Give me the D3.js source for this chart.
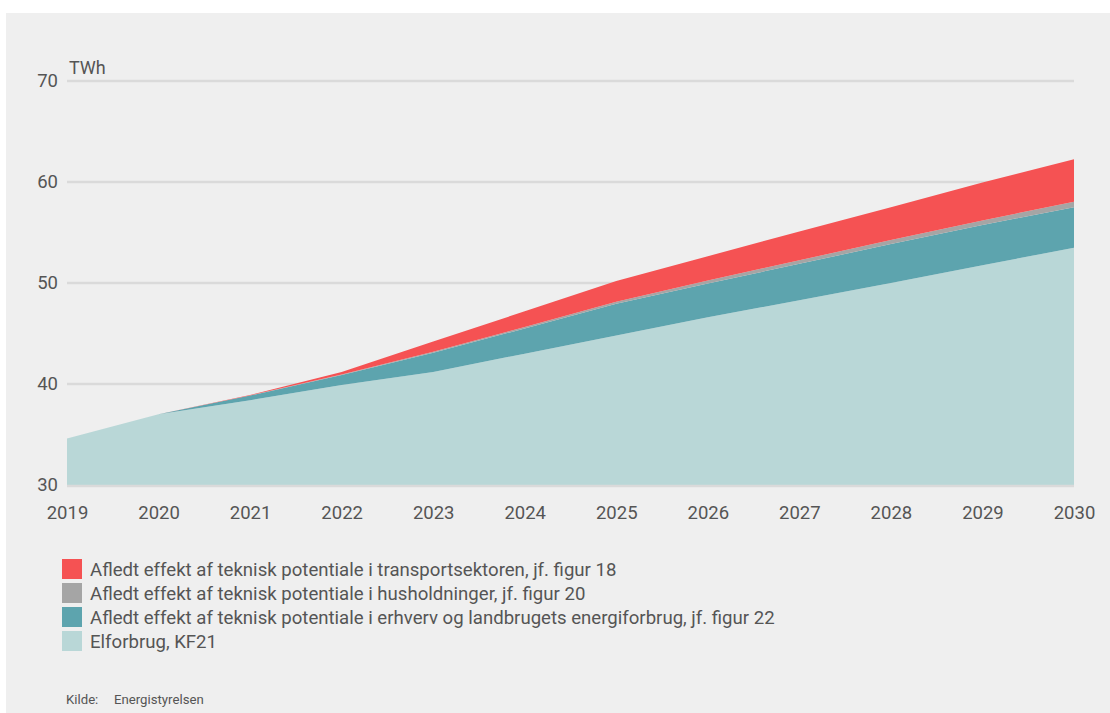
<!DOCTYPE html>
<html>
<head>
<meta charset="utf-8">
<script src="https://cdn.jsdelivr.net/npm/d3@7"></script>
<style>
  body { margin: 0; background: #fff; font-family: Roboto, "Noto Sans", sans-serif; }
  svg text { fill: #555; }
</style>
</head>
<body>
<svg id="svg" width="1110" height="713"></svg>
<script>
// Data (TWh)
var years = [2019, 2020, 2021, 2022, 2023, 2024, 2025, 2026, 2027, 2028, 2029, 2030];
var elforbrug = [34.6, 37.0, 38.4, 39.9, 41.2, 43.0, 44.8, 46.6, 48.3, 50.0, 51.75, 53.5];
var erhverv = [0, 0, 0.45, 1.0, 1.9, 2.5, 3.15, 3.35, 3.6, 3.85, 4.0, 4.0];
var husholdninger = [0, 0, 0.02, 0.05, 0.1, 0.15, 0.2, 0.3, 0.35, 0.4, 0.45, 0.55];
var transport = [0, 0, 0.05, 0.25, 1.0, 1.55, 2.05, 2.4, 2.85, 3.25, 3.75, 4.2];
var yTicks = [30, 40, 50, 60, 70];

var keys = ["elforbrug", "erhverv", "husholdninger", "transport"];
var colors = { elforbrug: "#b9d7d7", erhverv: "#5da4ae", husholdninger: "#a5a5a5", transport: "#f55253" };
var legendItems = [
  { key: "transport", label: "Afledt effekt af teknisk potentiale i transportsektoren, jf. figur 18" },
  { key: "husholdninger", label: "Afledt effekt af teknisk potentiale i husholdninger, jf. figur 20" },
  { key: "erhverv", label: "Afledt effekt af teknisk potentiale i erhverv og landbrugets energiforbrug, jf. figur 22" },
  { key: "elforbrug", label: "Elforbrug, KF21" }
];

var data = years.map((yr, i) => {
  return { year: yr, elforbrug: elforbrug[i], erhverv: erhverv[i], husholdninger: husholdninger[i], transport: transport[i] };
});

var svg = d3.select("#svg");

// panel background
svg.append("rect")
  .attr("x", 6).attr("y", 13)
  .attr("width", 1104).attr("height", 700)
  .attr("fill", "#efefef");

var x = d3.scaleLinear().domain([2019, 2030]).range([67, 1074]);
var y = d3.scaleLinear().domain([30, 70]).range([485, 81]);

// grid lines
svg.append("g")
  .selectAll("line")
  .data(yTicks.filter(d => d > 30))
  .enter().append("line")
  .attr("x1", x(2019)).attr("x2", x(2030))
  .attr("y1", d => y(d)).attr("y2", d => y(d))
  .attr("stroke", "#dadada")
  .attr("stroke-width", 2.5);

// stacked areas, baseline at 30
var stack = d3.stack().keys(keys);
var layers = stack(data);

var area = d3.area()
  .x(d => x(d.data.year))
  .y0(d => y(Math.max(30, d[0] === 0 ? 30 : d[0])))
  .y1(d => y(d[1]));

svg.append("g")
  .selectAll("path")
  .data(layers)
  .enter().append("path")
  .attr("fill", d => colors[d.key])
  .attr("d", area);

// base line at 30 sits on top of the area
svg.append("line")
  .attr("x1", x(2019)).attr("x2", x(2030))
  .attr("y1", y(30) + 1).attr("y2", y(30) + 1)
  .attr("stroke", "#dadada")
  .attr("stroke-width", 2.5);

// y axis
var yAxis = svg.append("g")
  .attr("transform", "translate(" + x(2019) + ",0)")
  .call(d3.axisLeft(y).tickValues(yTicks).tickSize(0).tickPadding(9));
yAxis.select(".domain").remove();
yAxis.selectAll("text")
  .attr("font-size", 18.5)
  .attr("font-family", "Roboto")
  .attr("fill", "#555");

// x axis
var xAxis = svg.append("g")
  .attr("transform", "translate(0," + y(30) + ")")
  .call(d3.axisBottom(x).tickValues(years).tickFormat(d3.format("d")).tickSize(0).tickPadding(21));
xAxis.select(".domain").remove();
xAxis.selectAll("text")
  .attr("font-size", 18.5)
  .attr("font-family", "Roboto")
  .attr("fill", "#555");

// unit label
svg.append("text")
  .attr("x", 69).attr("y", 74)
  .attr("font-size", 18)
  .text("TWh");

// legend
var legend = svg.append("g")
  .selectAll(".legend")
  .data(legendItems)
  .enter().append("g")
  .attr("class", "legend")
  .attr("transform", (d, i) => "translate(62," + (559 + i * 24) + ")");
legend.append("rect")
  .attr("width", 20).attr("height", 20)
  .attr("fill", d => colors[d.key]);
legend.append("text")
  .attr("x", 28).attr("y", 10)
  .attr("dy", ".35em")
  .attr("font-size", 18.6)
  .text(d => d.label);

// source
svg.append("text")
  .attr("x", 66).attr("y", 704)
  .attr("font-size", 13.2)
  .attr("fill", "#333")
  .text("Kilde:");
svg.append("text")
  .attr("x", 114).attr("y", 704)
  .attr("font-size", 13.2)
  .attr("fill", "#333")
  .text("Energistyrelsen");
</script>
</body>
</html>
